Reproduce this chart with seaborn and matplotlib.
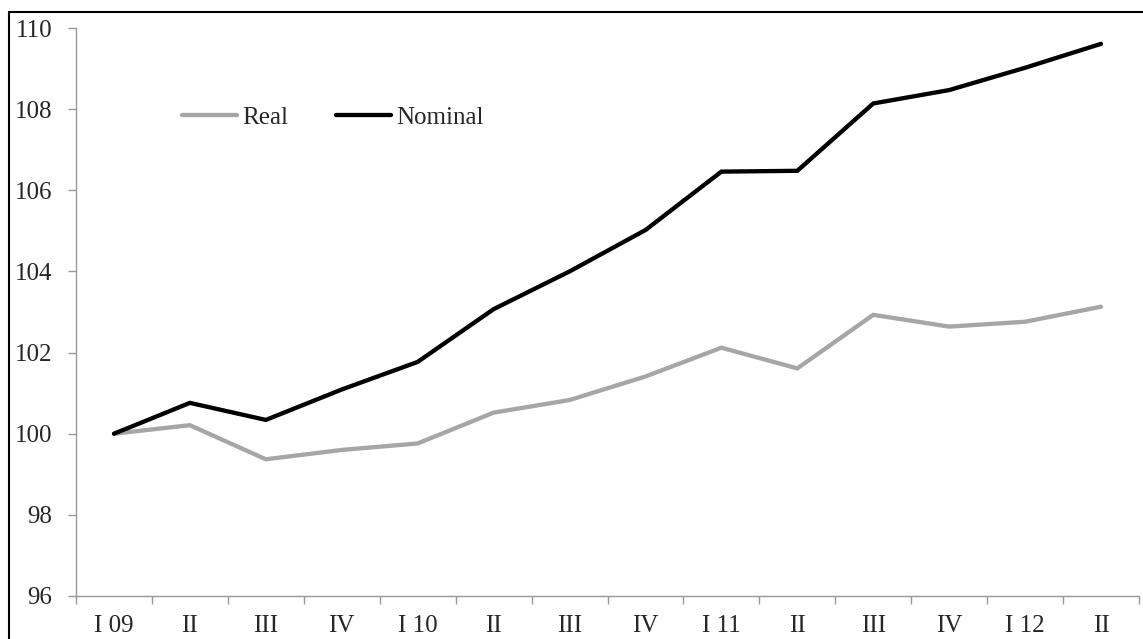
import matplotlib
matplotlib.use("Agg")
import matplotlib.pyplot as plt
from matplotlib.lines import Line2D
import seaborn as sns
import pandas as pd
import numpy as np

quarters = ["I 09", "II", "III", "IV", "I 10", "II", "III", "IV",
            "I 11", "II", "III", "IV", "I 12", "II"]
real = [100.0, 100.21, 99.37, 99.60, 99.76, 100.52, 100.83, 101.41,
        102.12, 101.61, 102.93, 102.64, 102.76, 103.13]
nominal = [100.0, 100.76, 100.34, 101.09, 101.77, 103.07, 104.0, 105.02,
           106.46, 106.48, 108.14, 108.47, 109.02, 109.61]
y_ticks = [96, 98, 100, 102, 104, 106, 108, 110]

sns.set_theme(style="white")
plt.rcParams['font.family'] = ['Liberation Serif', 'DejaVu Serif']
FS = 18

pos = list(range(len(quarters)))
df = pd.DataFrame({
    "pos": pos * 2,
    "value": real + nominal,
    "series": ["Real"] * len(real) + ["Nominal"] * len(nominal),
})

W, H = 1143, 639
fig = plt.figure(figsize=(W / 100, H / 100), dpi=100)
ax = fig.add_axes([76 / W, 43 / H, (1139 - 76) / W, (596 - 28) / H])

sns.lineplot(data=df, x="pos", y="value", hue="series",
             palette={"Real": "#a6a6a6", "Nominal": "#000000"},
             linewidth=3.1, sort=False, ax=ax, legend=False)
for ln in ax.get_lines():
    ln.set_solid_capstyle("round")
    ln.set_solid_joinstyle("miter")

ax.set_xlim(-0.5, len(quarters) - 0.5)
ax.set_ylim(96, 110)
ax.set_yticks(y_ticks)
ax.set_yticklabels([str(v) for v in y_ticks], fontsize=FS)
ax.set_xticks(np.arange(-0.5, len(quarters), 1.0))
ax.set_xticklabels([])
ax.set_xticks(pos, minor=True)
ax.set_xticklabels(quarters, minor=True, fontsize=FS)
ax.tick_params(axis="x", which="major", direction="out", length=6,
               width=1, color="#999999", bottom=True)
ax.tick_params(axis="x", which="minor", length=0, pad=13.5, bottom=True)
ax.tick_params(axis="y", direction="out", length=6, width=1,
               color="#999999", pad=11, left=True)
ax.set_xlabel("")
ax.set_ylabel("")
for side in ["top", "right"]:
    ax.spines[side].set_visible(False)
for side in ["left", "bottom"]:
    ax.spines[side].set_color("#999999")
    ax.spines[side].set_linewidth(1.0)

handles = [Line2D([], [], color="#a6a6a6", lw=3.1, solid_capstyle="round"),
           Line2D([], [], color="#000000", lw=3.1, solid_capstyle="round")]
ax.legend(handles, ["Real", "Nominal"], ncol=2, frameon=False,
          loc="center left", bbox_to_anchor=(0.1, 0.842),
          borderaxespad=0, borderpad=0, handlelength=2.2,
          handletextpad=0.2, columnspacing=1.9, fontsize=FS)

# figure border (left and top visible)
fig.add_artist(Line2D([8.5 / W, 8.5 / W], [0, 1 - 12 / H],
                      transform=fig.transFigure, color="black", lw=1.5))
fig.add_artist(Line2D([8.5 / W, 1], [1 - 12 / H, 1 - 12 / H],
                      transform=fig.transFigure, color="black", lw=1.5))

fig.savefig("out.png", dpi=100)
